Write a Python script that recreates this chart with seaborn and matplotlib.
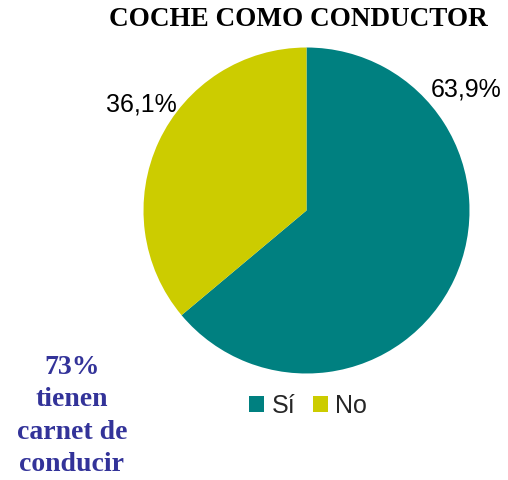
import matplotlib
matplotlib.use('Agg')
import matplotlib.pyplot as plt
import seaborn as sns

# data
categories = ['Sí', 'No']
values = [63.9, 36.1]
labels = ['63,9%', '36,1%']
colors = ['#008080', '#CCCC00']
title = 'COCHE COMO CONDUCTOR'
note = '73%\ntienen\ncarnet de\nconducir'

sns.set_theme(style='white')
plt.rcParams['font.family'] = ['Liberation Sans', 'DejaVu Sans']

fig = plt.figure(figsize=(5.08, 4.80), dpi=100)
# pie centre ~ (306.5, 210.5) px, radius ~163 px
cx, cy, r = 306.5, 210.5, 163
ax = fig.add_axes([(cx - r) / 508, (480 - cy - r) / 480, 2 * r / 508, 2 * r / 480])

wedges, _ = ax.pie(values, colors=sns.color_palette(colors), startangle=90,
                   counterclock=False, radius=1,
                   wedgeprops=dict(linewidth=0))
ax.set_xlim(-1, 1)
ax.set_ylim(-1, 1)
ax.set_aspect('equal')
ax.axis('off')

# value labels placed like the original
label_pos = [(0.98, 0.74), (-1.01, 0.65)]
for lab, (lx, ly) in zip(labels, label_pos):
    ax.text(lx, ly, lab, ha='center', va='center', fontsize=18,
            color='black', clip_on=False)

fig.text(298 / 508, 1 - 19 / 480, title, ha='center', va='center',
         fontsize=19.5, fontweight='bold', family='Liberation Serif',
         color='black')

fig.text(72 / 508, 1 - 416 / 480, note, ha='center', va='center',
         fontsize=20, fontweight='bold', family='Liberation Serif',
         color='#333399', linespacing=1.4)

fig.legend(wedges, categories, loc='center', bbox_to_anchor=(308 / 508, 1 - 406 / 480),
           ncol=2, frameon=False, fontsize=18, handlelength=0.6, handleheight=0.6,
           handletextpad=0.3, columnspacing=0.7)

fig.savefig('out.png', dpi=100)
